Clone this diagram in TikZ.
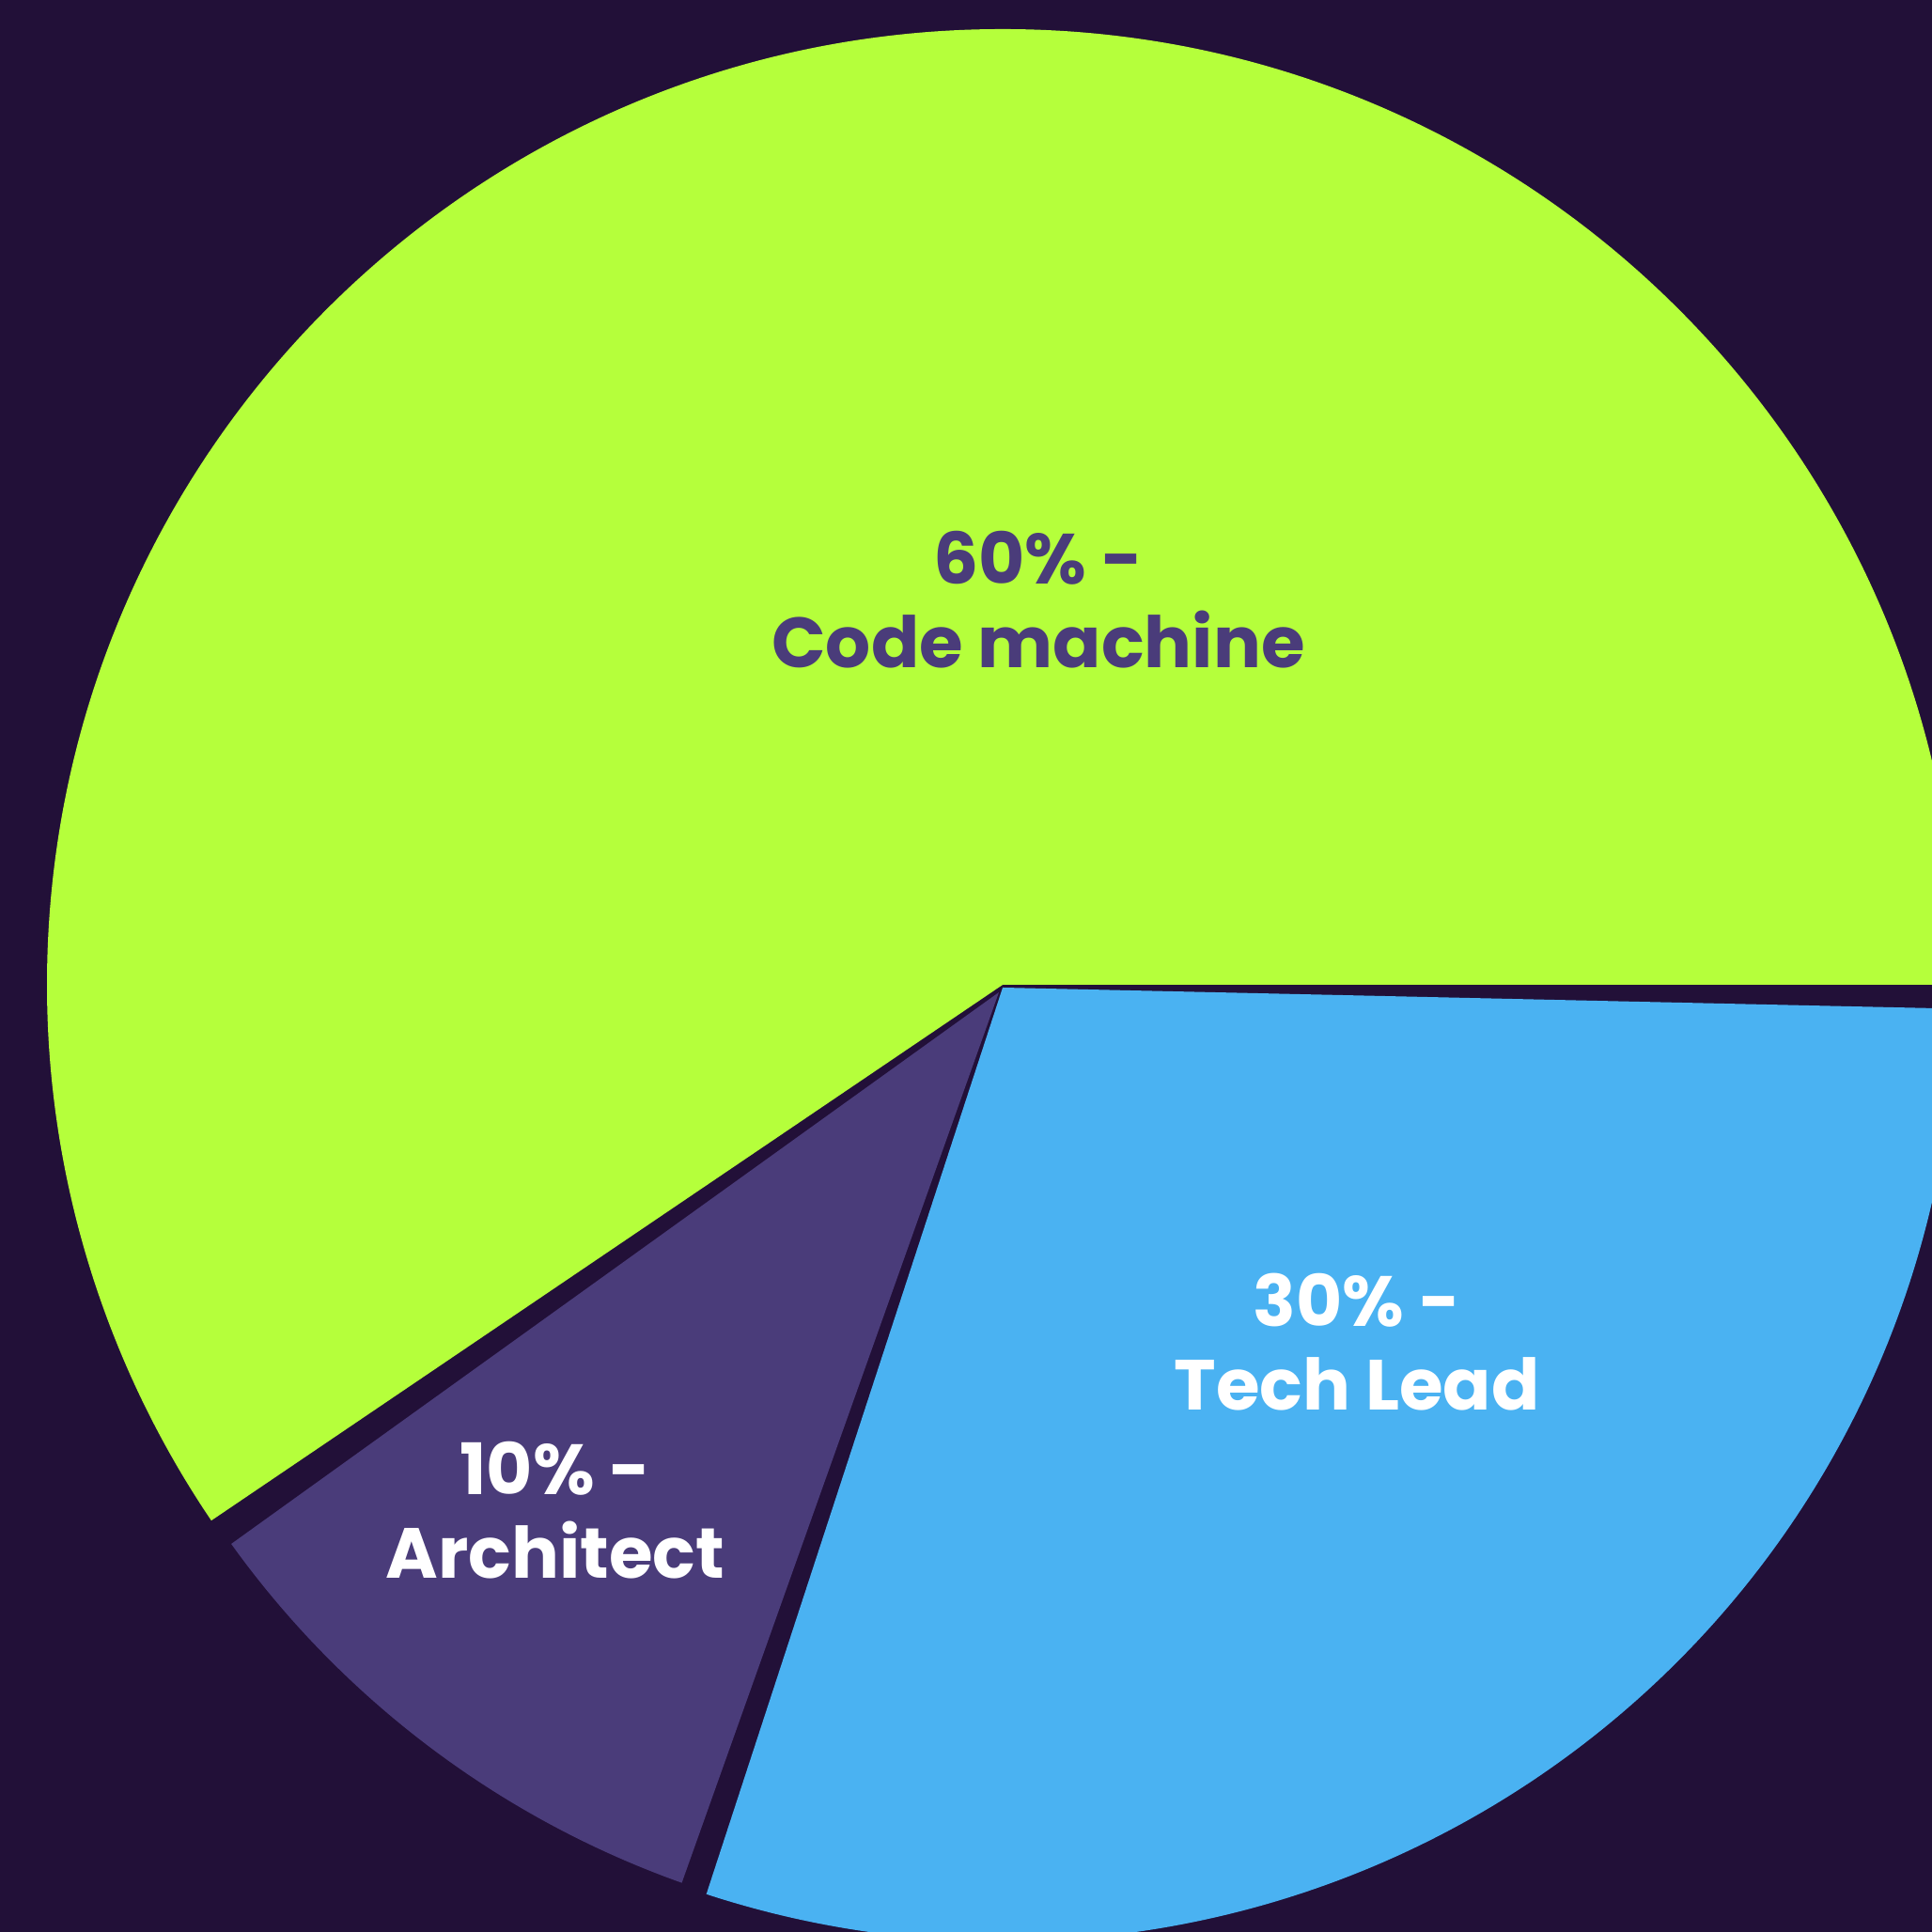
\documentclass[tikz,border=0pt]{standalone}
\usepackage{fontspec}
\setmainfont{Poppins}
\usepackage{xcolor}
\usepackage{tikz}
\usetikzlibrary{calc}
\usetikzlibrary{positioning}

\definecolor{bgdark}{HTML}{221038}
\definecolor{limegreen}{HTML}{B5FF3B}
\definecolor{skyblue}{HTML}{4AB2F2}
\definecolor{deeppurple}{HTML}{4A3C7A}

\begin{document}
\begin{tikzpicture}

                \def\rg{10.17}
                \def\rb{10.15}
                \def\rp{10.06}

                % Styles for the slices and their labels
                \tikzset{
                    slice/.style={draw=none},
                    pielabel/.style={align=center, inner sep=0pt,
                        font=\fontsize{21.5}{25.5}\selectfont\bfseries}
                }

                % Background and frame
                \fill[bgdark] (0, 0) rectangle (20.56, 20.56);
                \clip (0, 0) rectangle (20.56, 20.56);

                % Apex of each slice
                \coordinate (G) at (10.67, 10.08);
                \coordinate (B) at (10.67, 10.05);
                \coordinate (P) at (10.63, 10.00);

                \begin{scope}[slice]
                    \fill[limegreen] (G) -- ++(0:\rg)
                        arc[start angle=0, end angle=214.1, radius=\rg] -- cycle;
                    \fill[skyblue] (B) -- ++(-108.1:\rb)
                        arc[start angle=-108.1, end angle=-1.27, radius=\rb] -- cycle;
                    \fill[deeppurple] (P) -- ++(215.7:\rp)
                        arc[start angle=215.7, end angle=250.4, radius=\rp] -- cycle;
                \end{scope}

                \node (Code) [pielabel, text=deeppurple] at (11.05, 14.18)
                {60\% -\\Code machine};
                \node (Lead) [pielabel, text=white] at (14.44, 6.28)
                {30\% -\\Tech Lead};
                \node (Arch) [pielabel, text=white] at (5.91, 4.49)
                {10\% -\\Architect};

\end{tikzpicture}
\end{document}
